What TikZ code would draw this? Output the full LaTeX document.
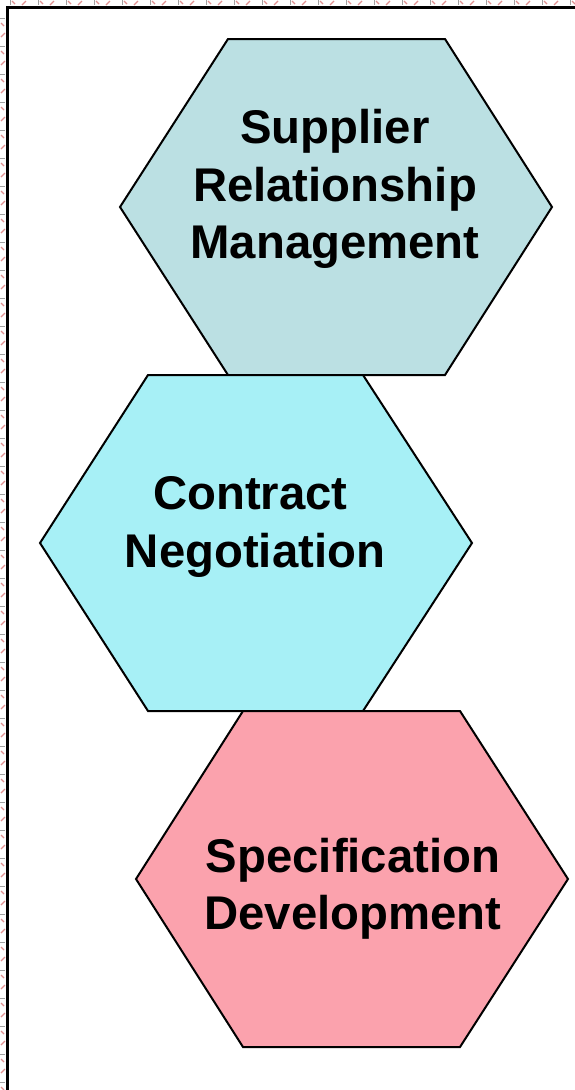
\documentclass[tikz,border=0pt]{standalone}
\usepackage{fontspec}
\setmainfont{Liberation Sans}
\definecolor{hexA}{HTML}{BBE0E3}
\definecolor{hexB}{HTML}{A7F0F6}
\definecolor{hexC}{HTML}{FBA2AD}
\definecolor{markpink}{HTML}{E09090}
\definecolor{markgray}{HTML}{A0A0A0}
\tikzset{
  hexshape/.style={draw=black, line width=2pt, line join=miter},
  hexlabel/.style={font=\fontsize{47.3}{57.5}\selectfont\bfseries, align=center, inner sep=0pt},
  frameline/.style={draw=black, line width=3pt},
}
\begin{document}
\begin{tikzpicture}[x=1pt, y=-1pt]
\useasboundingbox (0,0) rectangle (575,1090);
\fill[white] (0,0) rectangle (575,1090);
% decorative border marks
\foreach \i in {0,...,20} {
  \draw[markgray, line width=1pt] ({10+28*\i},0) -- ({10+28*\i},5);
  \draw[markpink, line width=1.3pt] ({12+28*\i},1) -- ({15+28*\i},4);
  \draw[markpink, line width=1.3pt] ({22+28*\i},5) -- ({26+28*\i},1);
}
\foreach \i in {0,...,38} {
  \draw[markgray, line width=1pt] (0,{18+28*\i}) -- (5,{18+28*\i});
  \draw[markpink, line width=1.3pt] (1,{23+28*\i}) -- (4,{26+28*\i});
  \draw[markpink, line width=1.3pt] (1,{37+28*\i}) -- (5,{33+28*\i});
}
\draw[frameline] (7,1090) -- (7,7) -- (575,7);
% hexagons
\path[hexshape, fill=hexA] (228,39) -- (445,39) -- (552,207) -- (445,375) -- (228,375) -- (120,207) -- cycle;
\path[hexshape, fill=hexB] (148,375) -- (363,375) -- (472,543) -- (363,711) -- (148,711) -- (40,543) -- cycle;
\path[hexshape, fill=hexC] (243,711) -- (460,711) -- (568,879) -- (460,1047) -- (243,1047) -- (136,879) -- cycle;
% labels
\node[hexlabel] (srm) at (335,189) {Supplier\\Relationship\\Management};
\node[hexlabel] (cn) at (255,527) {Contract\rule{9pt}{0pt}\\Negotiation};
\node[hexlabel] (sd) at (353,889) {Specification\\Development};
\end{tikzpicture}
\end{document}
